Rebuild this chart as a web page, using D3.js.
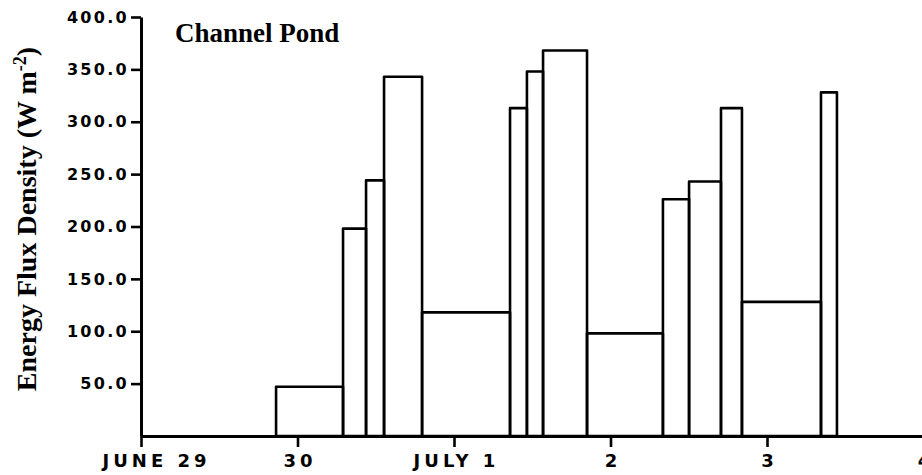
<!DOCTYPE html>
<html>
<head>
<meta charset="utf-8">
<script src="https://cdn.jsdelivr.net/npm/d3@7"></script>
<style>
  body { margin: 0; background: #fff; }
  .ytick text { font-family: "DejaVu Sans", sans-serif; font-weight: bold; font-size: 16px; letter-spacing: 2.3px; fill: #000; }
  .xtick text { font-family: "DejaVu Sans", sans-serif; font-weight: bold; font-size: 18px; letter-spacing: 4px; fill: #000; }
  .domain { stroke: #000; stroke-width: 3px; }
  .tick line { stroke: #000; stroke-width: 2.6px; }
</style>
</head>
<body>
<svg id="chart" width="922" height="475"></svg>
<script>
// Day ticks (days after midnight, June 29) and their labels
const dayTicks = [0, 1, 2, 3, 4, 5];
const dayLabels = ["JUNE 29", "30", "JULY 1", "2", "3", "4"];

// Energy flux density ticks (W m-2)
const fluxTicks = [50, 100, 150, 200, 250, 300, 350, 400];

// Boundaries of the averaging periods, in days after midnight June 29
const periodEdges = [0.863, 1.291, 1.438, 1.553, 1.796, 2.358, 2.466, 2.569,
                     2.850, 3.335, 3.502, 3.706, 3.840, 4.345, 4.447];

// Mean energy flux density over each period (W m-2)
const fluxDensity = [47, 198, 244, 343, 118, 313, 348, 368, 98, 226, 243, 313, 128, 328];

const svg = d3.select("#chart");

const x = d3.scaleLinear().domain([0, 5]).range([141, 923.5]);
const y = d3.scaleLinear().domain([0, 400]).range([436, 17]);

// Period bars: open outlines sharing their edges
const periods = fluxDensity.map((v, i) => ({ start: periodEdges[i], end: periodEdges[i + 1], value: v }));

svg.append("g")
  .selectAll("rect")
  .data(periods)
  .join("rect")
  .attr("x", d => x(d.start))
  .attr("width", d => x(d.end) - x(d.start))
  .attr("y", d => y(d.value))
  .attr("height", d => y(0) - y(d.value))
  .attr("fill", "none")
  .attr("stroke", "#000")
  .attr("stroke-width", 2.6)
  .attr("stroke-linejoin", "round");

// Y axis
const yAxis = d3.axisLeft(y)
  .tickValues(fluxTicks)
  .tickSize(10)
  .tickSizeOuter(0)
  .tickPadding(2)
  .tickFormat(d3.format(".1f"));

svg.append("g")
  .attr("class", "ytick")
  .attr("transform", `translate(${x(0)},0)`)
  .call(yAxis);

// X axis
const xAxis = d3.axisBottom(x)
  .tickValues(dayTicks)
  .tickSize(11)
  .tickSizeOuter(0)
  .tickPadding(7)
  .tickFormat((d, i) => dayLabels[i]);

const gx = svg.append("g")
  .attr("class", "xtick")
  .attr("transform", `translate(0,${y(0)})`)
  .call(xAxis);

// the first label starts at the axis rather than centring on it
gx.selectAll(".tick text").attr("dx", (d, i) => i === 0 ? 15 : 2);

// Title
svg.append("text")
  .attr("x", 175)
  .attr("y", 42)
  .attr("font-family", "'Liberation Serif', 'Times New Roman', serif")
  .attr("font-weight", "bold")
  .attr("font-size", 27)
  .attr("fill", "#000")
  .text("Channel Pond");

// Y axis label
const yl = svg.append("text")
  .attr("transform", "translate(36,219) rotate(-90)")
  .attr("text-anchor", "middle")
  .attr("font-family", "'Liberation Serif', 'Times New Roman', serif")
  .attr("font-weight", "bold")
  .attr("font-size", 28)
  .attr("fill", "#000");
yl.append("tspan").text("Energy Flux Density  (W m");
yl.append("tspan").attr("baseline-shift", "super").attr("font-size", 18).text("-2");
yl.append("tspan").text(")");
</script>
</body>
</html>
